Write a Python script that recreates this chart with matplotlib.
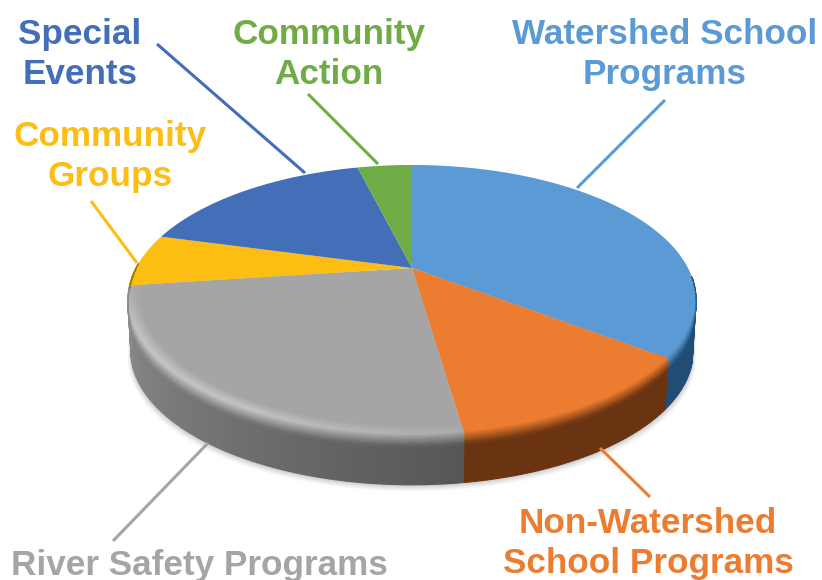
import numpy as np
from matplotlib import pyplot as plt
from matplotlib.collections import PolyCollection
from matplotlib.colors import to_rgb

plt.rcParams["font.family"] = ["Liberation Sans", "DejaVu Sans"]

categories = [
    "Watershed School\nPrograms",
    "Non-Watershed\nSchool Programs",
    "River Safety Programs",
    "Community\nGroups",
    "Special\nEvents",
    "Community\nAction",
]
shares = [35.4, 12.3, 25.2, 6.3, 16.9, 3.9]

face_colors = ["#5b9ad4", "#ec7c30", "#a5a5a5", "#fdbe14", "#426fb8", "#6fac46"]
side_colors = ["#204c76", "#6a3412", "#747474", "#a07c10", "#2a4674", "#466d2c"]
rim_lights = [0.0, 0.0, 0.62, 0.0, 0.0, 0.0]
wall_fade = [0, 0, 1, 0, 0, 0]

label_pos = [(665, 54.5), (648, 543.5), (199, 565), (110, 156.5), (80, 54.5), (329, 54.5)]
leaders = [
    ((665, 100), (577, 188)),
    ((650, 497), (600, 448)),
    ((113, 541), (208, 443)),
    ((91, 201), (137, 263)),
    ((157, 44), (305, 173)),
    ((308, 94), (378, 164)),
]

# perspective of the disc, all in pixels
cx, cy = 412, 268
sx, sy = 276, 127.4
k = 0.237
depth = 52
wall_from, wall_to = 94, 272


def project(theta, r=1.0, drop=0.0):
    # theta is clockwise from 12 o'clock, in degrees
    t = np.radians(theta)
    x, y = r * np.sin(t), r * np.cos(t)
    w = 1 + k * y
    return cx + sx * x / w, cy - sy * y / w + drop


def mix(a, b, f):
    a, b = np.array(to_rgb(a)), np.array(to_rgb(b))
    return tuple(a + (b - a) * f)


def side_shade(i, theta):
    col = side_colors[i]
    if not wall_fade[i]:
        return to_rgb(col)
    f = np.clip((theta - 217) / 45, -1, 1)
    return mix(col, "#ffffff", 0.18 * f) if f > 0 else mix(col, "#000000", -0.26 * f)


def wall_depth(theta):
    # the wall tapers to nothing where it turns out of sight
    return depth * np.clip(min(theta - wall_from, wall_to - theta) / 14, 0, 1)


def slice_angles(i):
    a, b = max(edges[i], wall_from), min(edges[i + 1], wall_to)
    if b <= a:
        return None
    return np.linspace(a, b, int(b - a) + 2)


edges = np.concatenate([[0], np.cumsum(shares)]) * 3.6

fig = plt.figure(figsize=(8.22, 5.80), dpi=100)
ax = fig.add_axes([0, 0, 1, 1])
ax.set_xlim(0, 822)
ax.set_ylim(580, 0)
ax.axis("off")

# soft shadow under the disc
th = np.linspace(wall_from, wall_to, 200)
drops = np.array([wall_depth(t) for t in th])
for grow, a in zip(np.linspace(7, 1, 7), np.linspace(0.025, 0.07, 7)):
    x, y = project(th, 0.99, drops + grow)
    x = cx + (x - cx) * (1 + grow / 600)
    ax.fill(x, y, color="#555555", alpha=a, lw=0, zorder=1)

# side wall
quads, cols = [], []
for i in range(len(shares)):
    ts = slice_angles(i)
    if ts is None:
        continue
    for t0, t1 in zip(ts[:-1], ts[1:]):
        quads.append([project(t0), project(t1),
                      project(t1, 0.99, wall_depth(t1)), project(t0, 0.99, wall_depth(t0))])
        cols.append(side_shade(i, (t0 + t1) / 2))
ax.add_collection(PolyCollection(quads, facecolors=cols, edgecolors=cols, linewidths=0.8, zorder=2))

# top face
for i, col in enumerate(face_colors):
    ts = np.linspace(edges[i], edges[i + 1], 80)
    x, y = project(ts)
    ax.fill(np.r_[cx, x], np.r_[cy, y], color=col, lw=0, zorder=3)

# bevel, a smooth profile from the face over the rim down the wall
quads, cols = [], []
us = np.linspace(0, 1, 15)
for i, (fc, light) in enumerate(zip(face_colors, rim_lights)):
    ts = slice_angles(i)
    if ts is None:
        continue
    for t0, t1 in zip(ts[:-1], ts[1:]):
        tm = (t0 + t1) / 2
        fade = np.clip(min(tm - wall_from, wall_to - tm) / 25, 0, 1)
        wall = side_shade(i, tm)
        strength = light * np.clip(1.3 - abs(tm - 225) / 50, 0.25, 1)
        lit = mix(fc, "#ffffff", strength * 0.6)
        for u0, u1 in zip(us[:-1], us[1:]):
            pts = []
            for t, u in ((t0, u0), (t1, u0), (t1, u1), (t0, u1)):
                r = 0.955 + 0.045 * min(u / 0.55, 1)
                drop = max(u - 0.55, 0) / 0.45 * 12 * fade
                pts.append(project(t, r, drop))
            um = (u0 + u1) / 2
            if um < 0.5:
                c = mix(fc, lit, um / 0.5)
            else:
                c = mix(lit, wall, (um - 0.5) / 0.5)
            # where the wall turns away only the face colour stays
            base = fc if um < 0.55 else wall
            quads.append(pts)
            cols.append(mix(base, c, fade))
ax.add_collection(PolyCollection(quads, facecolors=cols, edgecolors=cols, linewidths=0.5, zorder=4))

# labels and leader lines
for label, pos, col, (p0, p1) in zip(categories, label_pos, face_colors, leaders):
    ax.plot([p0[0], p1[0]], [p0[1], p1[1]], color=col, lw=2.2, solid_capstyle="butt", zorder=5)
    ax.text(pos[0], pos[1], label, color=col, fontsize=25.3, fontweight="bold",
            ha="center", va="center", linespacing=1.3, zorder=6)

fig.savefig("out.png", dpi=100)
